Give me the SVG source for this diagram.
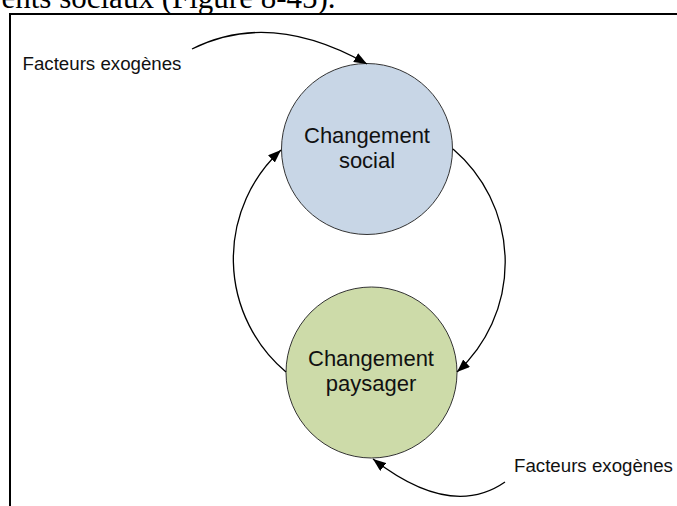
<svg xmlns="http://www.w3.org/2000/svg" width="677" height="506" viewBox="0 0 677 506">
<style>
.frame{fill:none;stroke:#000;stroke-width:2}
.head{font-family:"Liberation Serif","Times New Roman",serif;font-size:31px;fill:#000}
.node circle{stroke:#333;stroke-width:1}
.node text{font-family:"Liberation Sans",Arial,sans-serif;font-size:22px;fill:#111;text-anchor:middle}
.lbl{font-family:"Liberation Sans",Arial,sans-serif;font-size:18.7px;fill:#111}
.conn path{fill:none;stroke:#000;stroke-width:1.3}
</style>
<defs>
<marker id="ah" markerUnits="userSpaceOnUse" markerWidth="13" markerHeight="10" refX="13" refY="5" orient="auto">
<path d="M0,0 L13,5 L0,10 z" fill="#000"/>
</marker>
</defs>
<rect width="677" height="506" fill="#fff"/>
<text class="head" x="1.5" y="7.5">ents sociaux (Figure 8-45).</text>
<path class="frame" d="M10,512 V14 H684"/>
<g id="social" class="node">
<circle cx="367" cy="149" r="85.5" fill="#c8d6e6"/>
<text x="367" y="142.5">Changement</text>
<text x="367" y="168">social</text>
</g>
<g id="paysager" class="node">
<circle cx="371.5" cy="372.5" r="85.5" fill="#cddba9"/>
<text x="371" y="366">Changement</text>
<text x="371" y="391">paysager</text>
</g>
<g id="exo1">
<text class="lbl" x="22.5" y="70">Facteurs exogènes</text>
</g>
<g id="exo2">
<text class="lbl" x="514" y="472">Facteurs exogènes</text>
</g>
<g id="connectors" class="conn">
<path d="M192,49 Q270.5,9.5 367,64" marker-end="url(#ah)"/>
<path d="M286,372 A148,148 0 0 1 281,150" marker-end="url(#ah)"/>
<path d="M453,149 A149,149 0 0 1 457,372" marker-end="url(#ah)"/>
<path d="M505,482 Q451,519.5 373,459" marker-end="url(#ah)"/>
</g>
</svg>
